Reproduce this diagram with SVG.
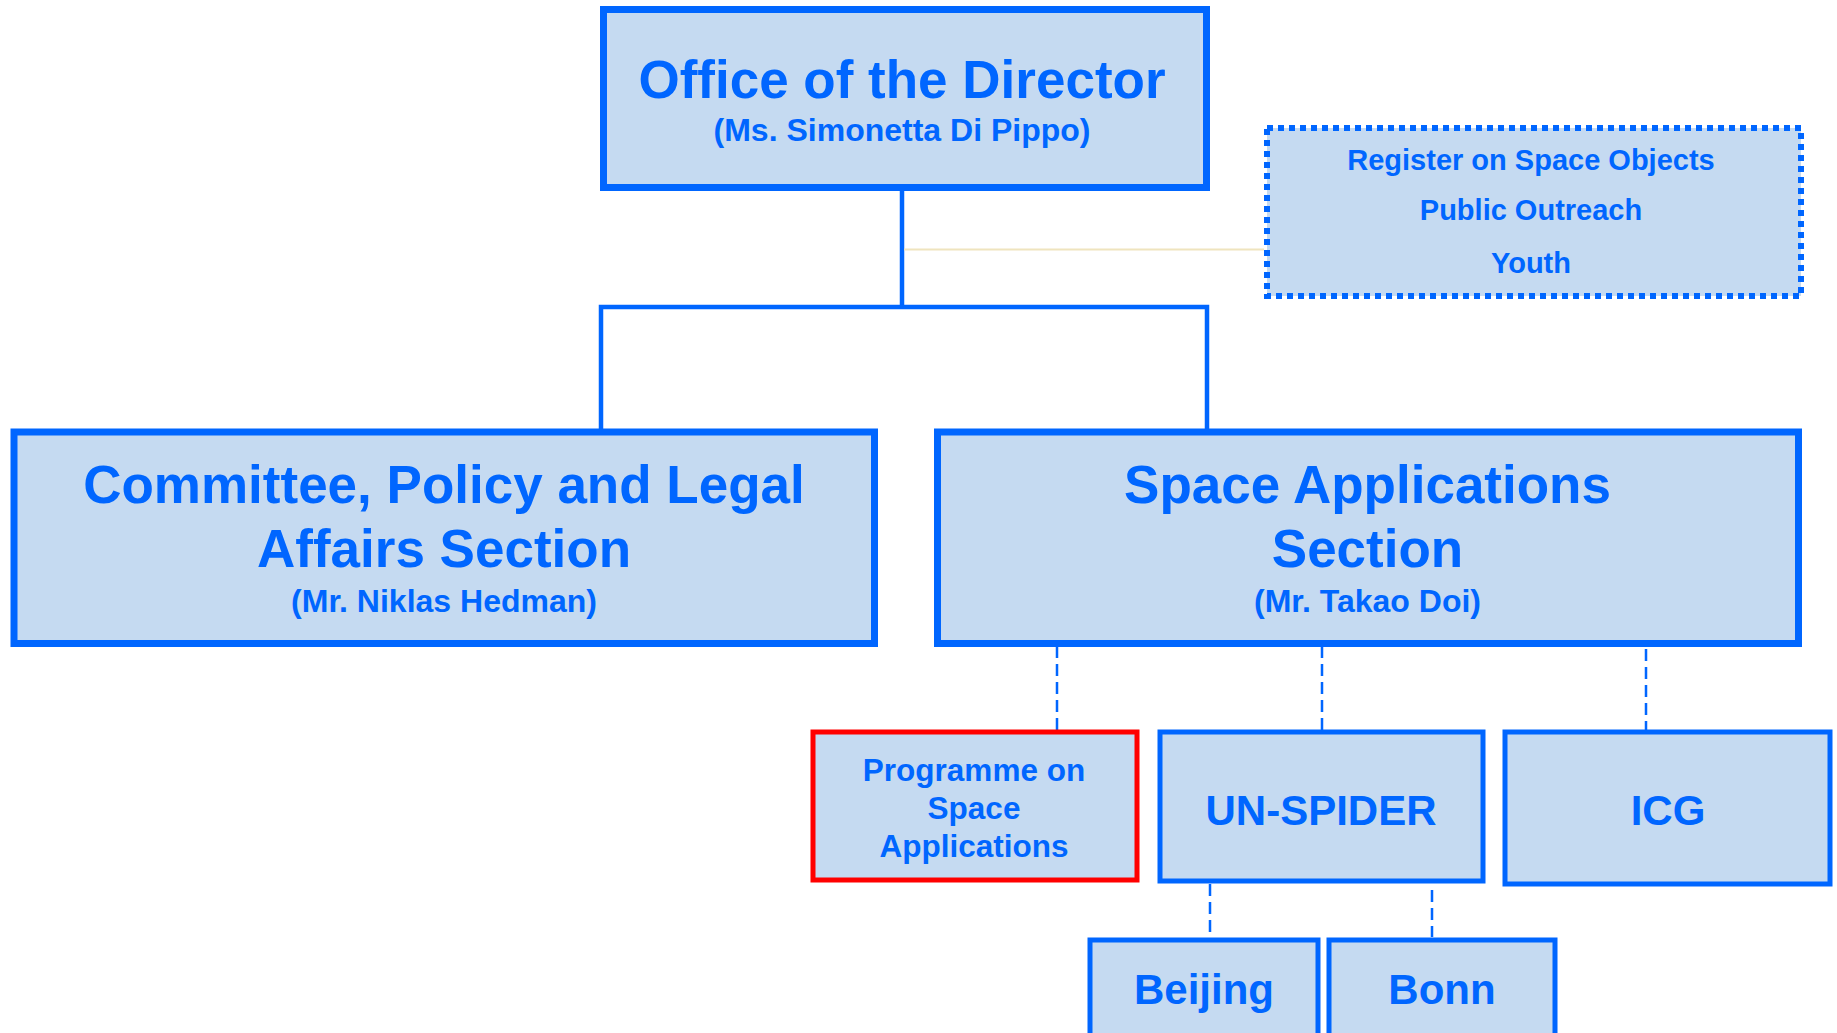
<svg xmlns="http://www.w3.org/2000/svg" width="1837" height="1033" viewBox="0 0 1837 1033">
<style>
.box{fill:#C5DAF1;stroke:#0066FF;}
.main{stroke-width:7;}
.sub{stroke-width:5;}
.red{stroke:#FF0000;}
.dotted{stroke-width:6;stroke-dasharray:6 5;}
text{font-family:"Liberation Sans",Arial,sans-serif;font-weight:bold;fill:#0066FF;text-anchor:middle;}
.t53{font-size:53px;}
.t32{font-size:32px;}
.t31{font-size:31.5px;}
.t29{font-size:29px;}
.t42{font-size:42px;}
.solid{stroke:#0066FF;stroke-width:4.5;fill:none;}
.dash{stroke:#0066FF;stroke-width:2.5;stroke-dasharray:12 6;fill:none;}
.pale{stroke:#EFE4BE;stroke-width:2;fill:none;}
</style>
<rect width="1837" height="1033" fill="#FFFFFF"/>
<g id="connectors">
<line class="solid" x1="902" y1="191" x2="902" y2="307"/>
<line class="pale" x1="904" y1="249.5" x2="1264" y2="249.5"/>
<polyline class="solid" points="601,431 601,307 1207,307 1207,431"/>
<line class="dash" x1="1057" y1="646" x2="1057" y2="730"/>
<line class="dash" x1="1322" y1="646" x2="1322" y2="730"/>
<line class="dash" x1="1646" y1="649" x2="1646" y2="730"/>
<line class="dash" x1="1210" y1="884" x2="1210" y2="937"/>
<line class="dash" x1="1432" y1="890" x2="1432" y2="937"/>
</g>
<g id="director">
<rect class="box main" x="603.5" y="9.5" width="603" height="178"/>
<text class="t53" x="902" y="98">Office of the Director</text>
<text class="t32" x="902" y="141">(Ms. Simonetta Di Pippo)</text>
</g>
<g id="staff">
<rect class="box dotted" x="1267" y="128" width="534" height="168"/>
<text class="t29" x="1531" y="170">Register on Space Objects</text>
<text class="t29" x="1531" y="220">Public Outreach</text>
<text class="t29" x="1531" y="273">Youth</text>
</g>
<g id="committee">
<rect class="box main" x="14" y="432" width="860.5" height="211.5"/>
<text class="t53" x="444" y="503">Committee, Policy and Legal</text>
<text class="t53" x="444" y="567">Affairs Section</text>
<text class="t32" x="444" y="611.5">(Mr. Niklas Hedman)</text>
</g>
<g id="space-applications">
<rect class="box main" x="937.5" y="432" width="861" height="211.5"/>
<text class="t53" x="1367.5" y="503">Space Applications</text>
<text class="t53" x="1367.5" y="567">Section</text>
<text class="t32" x="1367.5" y="611.5">(Mr. Takao Doi)</text>
</g>
<g id="programme">
<rect class="box sub red" x="813" y="732" width="324" height="148"/>
<text class="t31" x="974" y="781">Programme on</text>
<text class="t31" x="974" y="819">Space</text>
<text class="t31" x="974" y="856.5">Applications</text>
</g>
<g id="un-spider">
<rect class="box sub" x="1160" y="732" width="323" height="149"/>
<text class="t42" x="1321" y="825">UN-SPIDER</text>
</g>
<g id="icg">
<rect class="box sub" x="1505" y="732" width="325" height="152"/>
<text class="t42" x="1668" y="825">ICG</text>
</g>
<g id="beijing">
<rect class="box sub" x="1090" y="940" width="228" height="130"/>
<text class="t42" x="1204" y="1004">Beijing</text>
</g>
<g id="bonn">
<rect class="box sub" x="1329" y="940" width="226" height="130"/>
<text class="t42" x="1442" y="1004">Bonn</text>
</g>
</svg>
